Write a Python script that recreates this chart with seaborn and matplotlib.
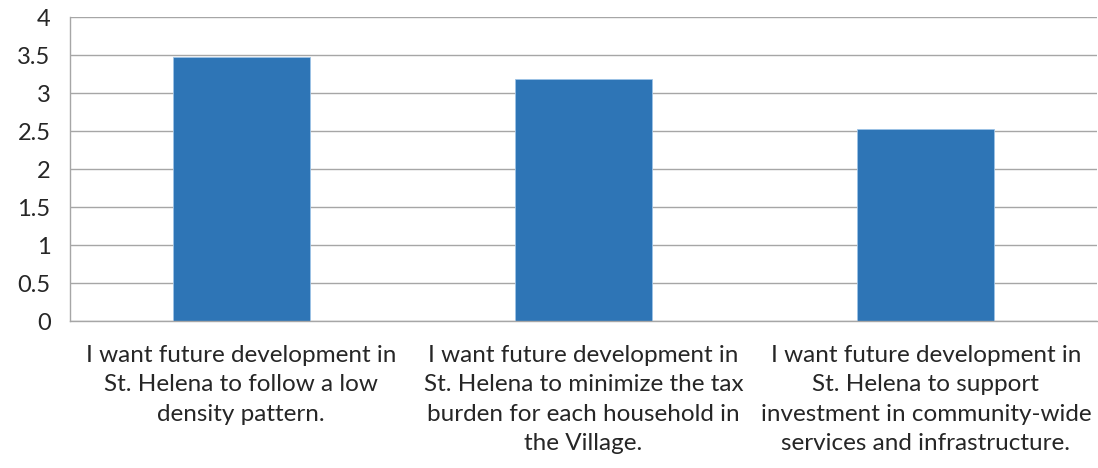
import matplotlib
matplotlib.use("Agg")
import matplotlib.pyplot as plt
import seaborn as sns
import pandas as pd
from matplotlib.ticker import FixedLocator, NullFormatter

categories = [
    "I want future development in\nSt. Helena to follow a low\ndensity pattern.",
    "I want future development in\nSt. Helena to minimize the tax\nburden for each household in\nthe Village.",
    "I want future development in\nSt. Helena to support\ninvestment in community-wide\nservices and infrastructure.",
]
values = [3.47, 3.19, 2.53]
yticks = [0, 0.5, 1, 1.5, 2, 2.5, 3, 3.5, 4]
ytick_labels = ["0", "0.5", "1", "1.5", "2", "2.5", "3", "3.5", "4"]

sns.set_style("white")
plt.rcParams['font.family'] = ['Lato', 'DejaVu Sans']

df = pd.DataFrame({"cat": categories, "val": values})

fig = plt.figure(figsize=(10.98, 4.68), dpi=100)
ax = fig.add_axes([70/1098, 1-321/468, (1097-70)/1098, (321-17)/468])
sns.barplot(data=df, x="cat", y="val", color="#2E75B6", width=0.4, ax=ax,
            saturation=1, edgecolor="#9DC3E6", linewidth=0.6)

ax.set_xlim(-0.5, 2.5)
ax.set_ylim(0, 4)
ax.set_yticks(yticks)
ax.set_yticklabels(ytick_labels)
ax.yaxis.grid(True, color="#A6A6A6", linewidth=1)
ax.set_axisbelow(True)

ax.xaxis.set_major_locator(FixedLocator([-0.5, 0.5, 1.5, 2.5]))
ax.xaxis.set_major_formatter(NullFormatter())
ax.xaxis.set_minor_locator(FixedLocator([0, 1, 2]))
ax.set_xticklabels(categories, minor=True)
ax.tick_params(axis="x", which="major", length=7, color="#A6A6A6", width=1, direction="out")
ax.tick_params(axis="x", which="minor", length=0, pad=17, labelsize=17.5)
ax.tick_params(axis="y", which="major", length=7, color="#A6A6A6", width=1, direction="out", labelsize=17, pad=7)
for lab in ax.get_xticklabels(minor=True):
    lab.set_ha("center")
    lab.set_linespacing(1.5)

ax.set_xlabel("")
ax.set_ylabel("")
for s in ["top", "right"]:
    ax.spines[s].set_visible(False)
for s in ["left", "bottom"]:
    ax.spines[s].set_color("#A6A6A6")
    ax.spines[s].set_linewidth(1)

fig.savefig("out.png", dpi=100)
